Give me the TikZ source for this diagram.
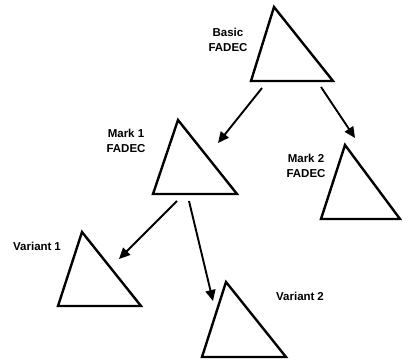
\documentclass[tikz,border=0pt]{standalone}
\usepackage{fontspec}
\setmainfont{Liberation Sans}
\usetikzlibrary{arrows.meta}
\begin{document}
\begin{tikzpicture}[x=1pt,y=-1pt,
  tri/.style={draw=black,line width=2.4pt,line join=miter},
  link/.style={draw=black,line width=1.9pt,-{Triangle[length=11pt,width=10pt]}},
  lbl/.style={font=\bfseries\fontsize{11.5}{14.5}\selectfont,align=center,inner sep=0pt}]
\useasboundingbox (0,0) rectangle (402,361);

% triangles: apex, bottom-left, bottom-right
\draw[tri] (274,7) -- (251,81) -- (333,81) -- cycle;
\draw[tri] (178,120) -- (153,194) -- (237,194) -- cycle;
\draw[tri] (345,145) -- (321,219) -- (400,219) -- cycle;
\draw[tri] (82,232) -- (58,306) -- (141,306) -- cycle;
\draw[tri] (226,282) -- (202,357) -- (286,357) -- cycle;

% labels
\node[lbl] (basic) at (228,40) {Basic\\FADEC};
\node[lbl] (mark1) at (126,141) {Mark 1\\FADEC};
\node[lbl] (mark2) at (306,166) {Mark 2\\FADEC};
\node[lbl] (var1) at (37,246) {Variant\hspace{0.25em}1};
\node[lbl] (var2) at (300,296) {Variant\hspace{0.25em}2};

% arrow end points
\coordinate (b1) at (262,88);
\coordinate (b2) at (321,87);
\coordinate (m1in) at (218,143);
\coordinate (m2in) at (355,138);
\coordinate (m1a) at (177,201);
\coordinate (m1b) at (189,201);
\coordinate (v1in) at (119,259);
\coordinate (v2in) at (213,301);

\draw[link] (b1) -- (m1in);
\draw[link] (b2) -- (m2in);
\draw[link] (m1a) -- (v1in);
\draw[link] (m1b) -- (v2in);
\end{tikzpicture}
\end{document}
